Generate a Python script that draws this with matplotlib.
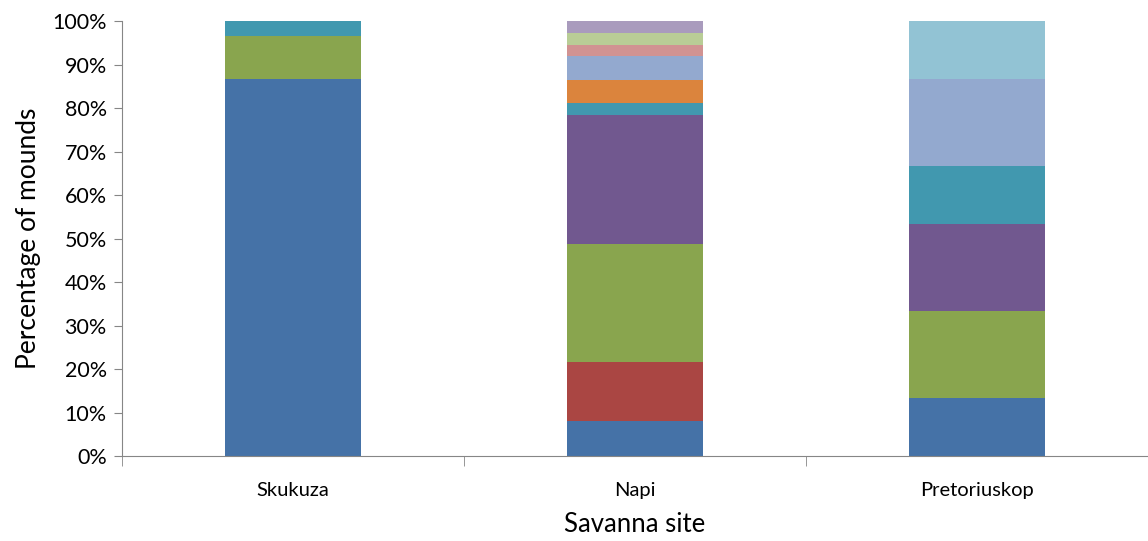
import numpy as np
import matplotlib.pyplot as plt
import matplotlib.ticker as ticker

plt.rcParams['font.family'] = ['Lato', 'DejaVu Sans']

sites = ['Skukuza', 'Napi', 'Pretoriuskop']

# percentage of mounds per series (Excel series order), per site
s1 = [86.67, 8.11, 13.33]
s2 = [0.0, 13.51, 0.0]
s3 = [10.0, 27.03, 20.0]
s4 = [0.0, 29.73, 20.0]
s5 = [3.33, 2.70, 13.33]
s6 = [0.0, 5.41, 0.0]
s7 = [0.0, 5.41, 20.0]
s8 = [0.0, 2.70, 0.0]
s9 = [0.0, 2.70, 0.0]
s10 = [0.0, 2.70, 0.0]
s11 = [0.0, 0.0, 13.34]

series = [s1, s2, s3, s4, s5, s6, s7, s8, s9, s10, s11]
colors = ['#4572A7', '#AA4643', '#89A54E', '#71588F', '#4198AF', '#DB843D',
          '#93A9CF', '#D19392', '#B9CD96', '#A99BBD', '#92C3D4']

fig = plt.figure(figsize=(11.48, 5.41), dpi=100)
ax = fig.add_axes([0.1063, 0.1571, 0.8937, 0.804])

x = np.arange(len(sites))
bottom = np.zeros(len(sites))
for vals, c in zip(series, colors):
    vals = np.array(vals)
    ax.bar(x, vals, 0.4, bottom=bottom, color=c, linewidth=0)
    bottom += vals

ax.set_xlim(-0.5, 2.5)
ax.set_ylim(0, 100)
ax.yaxis.set_major_locator(ticker.MultipleLocator(10))
ax.yaxis.set_major_formatter(ticker.FuncFormatter(lambda v, p: '%d%%' % v))

ax.set_xticks(x)
ax.set_xticklabels(sites, fontsize=14.5)
ax.set_xticks([-0.5, 0.5, 1.5, 2.5], minor=True)
ax.tick_params(axis='x', which='major', length=0, pad=19)
ax.tick_params(axis='x', which='minor', length=7, color='#868686', direction='out')
ax.tick_params(axis='y', labelsize=15.5, length=6, color='#868686', direction='out', pad=5)

for s in ['top', 'right']:
    ax.spines[s].set_visible(False)
for s in ['left', 'bottom']:
    ax.spines[s].set_color('#868686')

ax.set_ylabel('Percentage of mounds', fontsize=19, labelpad=8)
ax.set_xlabel('Savanna site', fontsize=18.5, labelpad=9)

plt.savefig('out.png', dpi=100)
